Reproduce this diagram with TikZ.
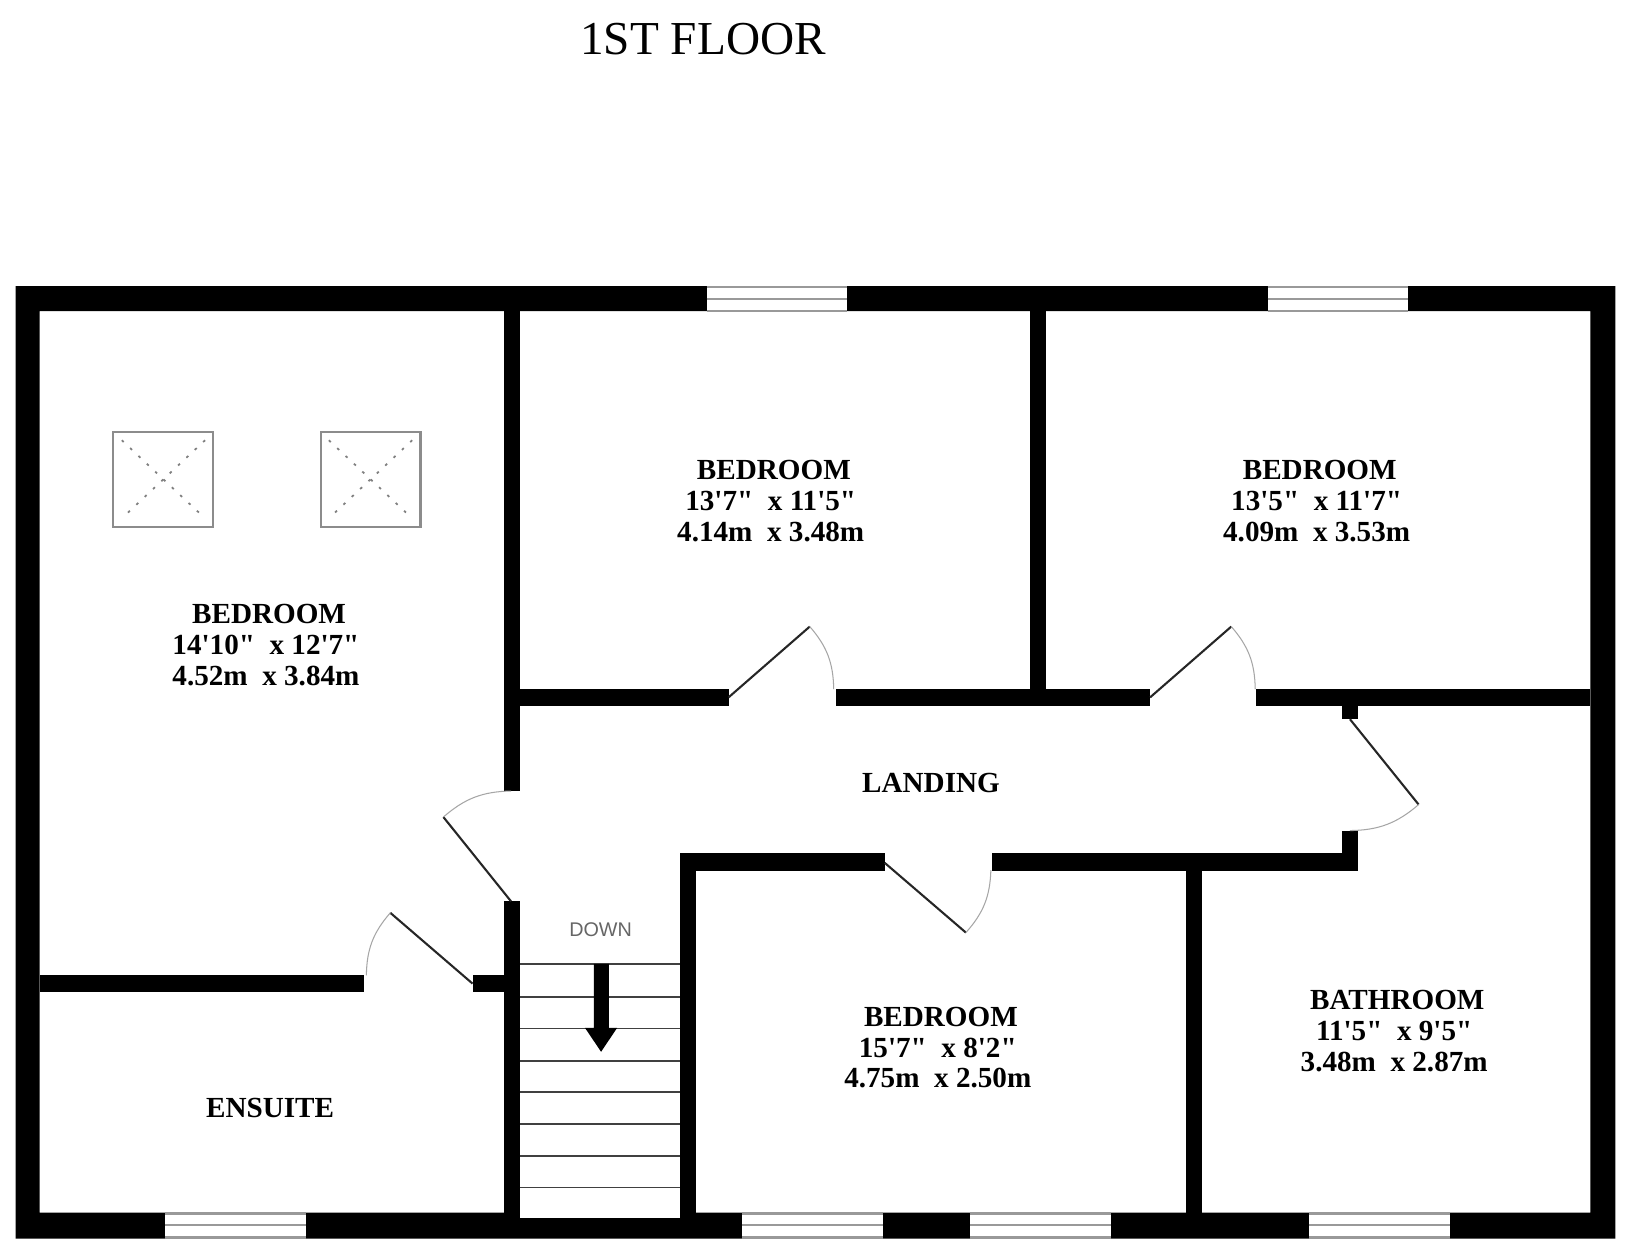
\documentclass[tikz,border=0pt]{standalone}
\usepackage{fontspec}
\newfontfamily\labfont{Liberation Serif}
\newfontfamily\downfont{Liberation Sans}
\newcommand{\roomsize}{\fontsize{28}{29.6}\labfont\bfseries}
\newcommand{\rmhead}[1]{\hspace*{6pt}#1}
\tikzset{
  x=1pt,y=-1pt,
  wall/.style={fill=black,draw=none},
  room/.style={font=\roomsize,align=center,inner sep=0pt,anchor=center,text=black},
  leaf/.style={draw=black!85,line width=2pt},
  swing/.style={draw=black!35,line width=1pt},
  tread/.style={draw=black!75,line width=1.6pt},
  pane/.style={fill=white,draw=none},
  paneline/.style={draw=black!40,line width=2.2pt},
  skybox/.style={draw=black!45,line width=2pt,fill=white},
  skycross/.style={draw=black!50,line width=1.7pt,dash pattern=on 2.5pt off 8.5pt},
}
\newcommand{\wallrect}[4]{\fill[wall] (#1,#2) rectangle (#3,#4);}
\newcommand{\winrect}[2]{%
  \fill[pane] (#1,#2) rectangle ++(135,25);
  \draw[paneline] (#1,#2+1) -- ++(135,0);
  \draw[paneline] (#1,#2+12) -- ++(135,0);
  \draw[paneline] (#1,#2+24) -- ++(135,0);
}
\newcommand{\skylight}[1]{%
  \draw[skybox] (#1,415) rectangle ++(96,91);
  \draw[skycross] (#1+8,423) -- ++(80,75);
  \draw[skycross] (#1+88,423) -- ++(-80,75);
}
\begin{document}
\begin{tikzpicture}
\path[use as bounding box,fill=white] (0,0) rectangle (1568,1207);
% outer walls
\fill[wall,even odd rule] (15,275) rectangle (1552,1190) (38,299) rectangle (1528,1165);
% inner walls
\wallrect{484}{299}{499.5}{760}
\wallrect{484}{866}{499.5}{1165}
\wallrect{990}{299}{1005}{662}
\wallrect{499}{662}{700}{678.3}
\wallrect{803}{662}{1105}{678.3}
\wallrect{1207}{662}{1528}{678.3}
\wallrect{1289}{678}{1305}{691}
\wallrect{654}{820}{850}{836.5}
\wallrect{953}{820}{1305}{836.5}
\wallrect{1289}{798}{1305}{836.5}
\wallrect{653.5}{820}{669}{1165}
\wallrect{1139}{836}{1155}{1165}
\wallrect{38}{937}{350}{953}
\wallrect{454}{937}{484}{953}
% windows
\winrect{679}{275}
\winrect{1218}{275}
\winrect{159}{1165}
\winrect{713}{1165}
\winrect{932}{1165}
\winrect{1258}{1165}
% skylights
\skylight{109}
\skylight{308}
% stairs
\fill[white] (499.5,1164) rectangle (653.5,1170.4);
\foreach \yy in {926.5,958,988,1019.5,1049,1080,1110.5,1141}{\draw[tread] (499.5,\yy) -- (653.5,\yy);}
\fill[wall] (570.5,926) -- (585,926) -- (585,987.5) -- (593,987.5) -- (577.5,1010.5) -- (562,987.5) -- (570.5,987.5) -- cycle;
\node[font=\fontsize{19}{19}\downfont,text=black!60,inner sep=0pt] (downlabel) at (577,893) {DOWN};
% doors
\draw[leaf] (700,670) -- (778,602);
\draw[swing] (778,602) to[bend left=20] (801,662);
\draw[leaf] (1105,670) -- (1183,602);
\draw[swing] (1183,602) to[bend left=20] (1206,662);
\draw[leaf] (1297,691) -- (1363,773);
\draw[swing] (1363,773) to[bend left=20] (1297,798);
\draw[leaf] (850,829) -- (928,896);
\draw[swing] (928,896) to[bend right=20] (952,836);
\draw[leaf] (491,866) -- (426,785);
\draw[swing] (426,785) to[bend left=20] (491,760);
\draw[leaf] (454,945) -- (375,877);
\draw[swing] (375,877) to[bend right=20] (352,937);
% labels
\node[font=\fontsize{45.4}{45.4}\labfont,inner sep=0pt,text=black] (title) at (675.5,38) {1ST FLOOR};
\node[room] (bed1) at (255.5,619.5) {\rmhead{BEDROOM}\\14'10"\ \ x 12'7"\\4.52m\ \ x 3.84m};
\node[room] (bed2) at (740.5,481.5) {\rmhead{BEDROOM}\\13'7"\ \ x 11'5"\\4.14m\ \ x 3.48m};
\node[room] (bed3) at (1265,481.5) {\rmhead{BEDROOM}\\13'5"\ \ x 11'7"\\4.09m\ \ x 3.53m};
\node[room] (bed4) at (901,1006.5) {\rmhead{BEDROOM}\\15'7"\ \ x 8'2"\\4.75m\ \ x 2.50m};
\node[room] (bath) at (1339.5,990.5) {\rmhead{BATHROOM}\\11'5"\ \ x 9'5"\\3.48m\ \ x 2.87m};
\node[room] (ensuite) at (259.5,1065) {ENSUITE};
\node[room] (landing) at (894.5,752.5) {LANDING};
\end{tikzpicture}
\end{document}
